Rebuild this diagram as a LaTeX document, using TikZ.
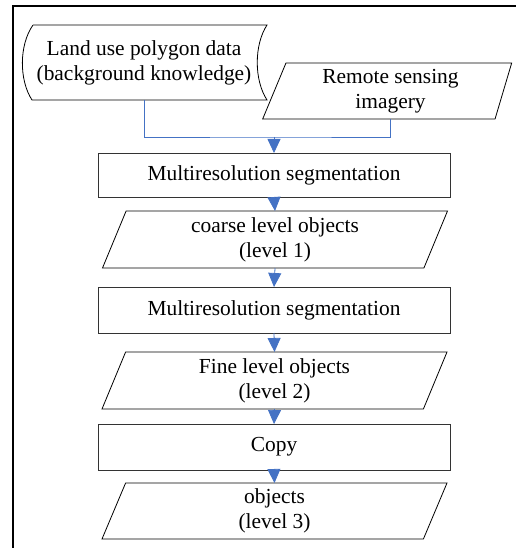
\documentclass[tikz,border=0pt]{standalone}
\usepackage{fontspec}
\setmainfont{Liberation Serif}
\usetikzlibrary{shapes.geometric,arrows.meta}
\definecolor{linkblue}{RGB}{68,114,196}
\tikzset{
  every node/.style={font=\fontsize{21.5}{25}\selectfont, align=center, outer sep=0pt},
  procbox/.style={draw=black!80, line width=0.8bp, rectangle, minimum width=352bp, minimum height=45bp},
  databox/.style={draw=black, line width=0.8bp, trapezium, trapezium stretches body,
    trapezium left angle=63, trapezium right angle=117, minimum width=345bp, minimum height=57bp, inner sep=1bp},
  link/.style={draw=linkblue, line width=0.8bp},
  flow/.style={link, -{Triangle[width=13bp,length=14bp,fill=linkblue]}}
}
\begin{document}
\begin{tikzpicture}[x=1bp,y=-1bp]
  \useasboundingbox (0,0) rectangle (516,548);
  % frame
  \draw [line width=2bp] (13,548) -- (13,6) -- (516,6);
  % inputs
  \draw [line width=0.8bp] (33,25) -- (267,25) .. controls (254,45) and (254,80) .. (267,100)
        -- (32,100) .. controls (19,80) and (19,45) .. (33,25);
  \node (landuse) [minimum width=234bp, minimum height=75bp] at (144,62.5) {Land use polygon data\\(background knowledge)};
  \node (remote) [databox, trapezium left angle=63, trapezium right angle=110,
        minimum width=249bp, minimum height=56bp] at (390.5,91) {Remote sensing\\imagery};
  % steps
  \node (seg1) [procbox, minimum height=44bp] at (274,175) {Multiresolution segmentation};
  \node (lvl1) [databox] at (275,239.5) {coarse level objects\\(level 1)};
  \node (seg2) [procbox, minimum height=46bp] at (274,310) {Multiresolution segmentation};
  \node (lvl2) [databox] at (274.5,380.5) {Fine level objects\\(level 2)};
  \node (copy) [procbox, minimum height=46bp] at (274,447) {Copy};
  \node (lvl3) [databox, minimum height=56bp] at (274.5,511) {objects\\(level 3)};
  % connectors
  \coordinate (join) at (274,137);
  \draw [link] (landuse.south) |- (join) -| (remote.south);
  \draw [flow] (join) -- (seg1.north);
  \draw [flow] (seg1.south) -- (lvl1.north);
  \draw [flow] (lvl1.south) -- (seg2.north);
  \draw [flow] (seg2.south) -- (lvl2.north);
  \draw [flow] (lvl2.south) -- (copy.north);
  \draw [flow] (copy.south) -- (lvl3.north);
\end{tikzpicture}
\end{document}
